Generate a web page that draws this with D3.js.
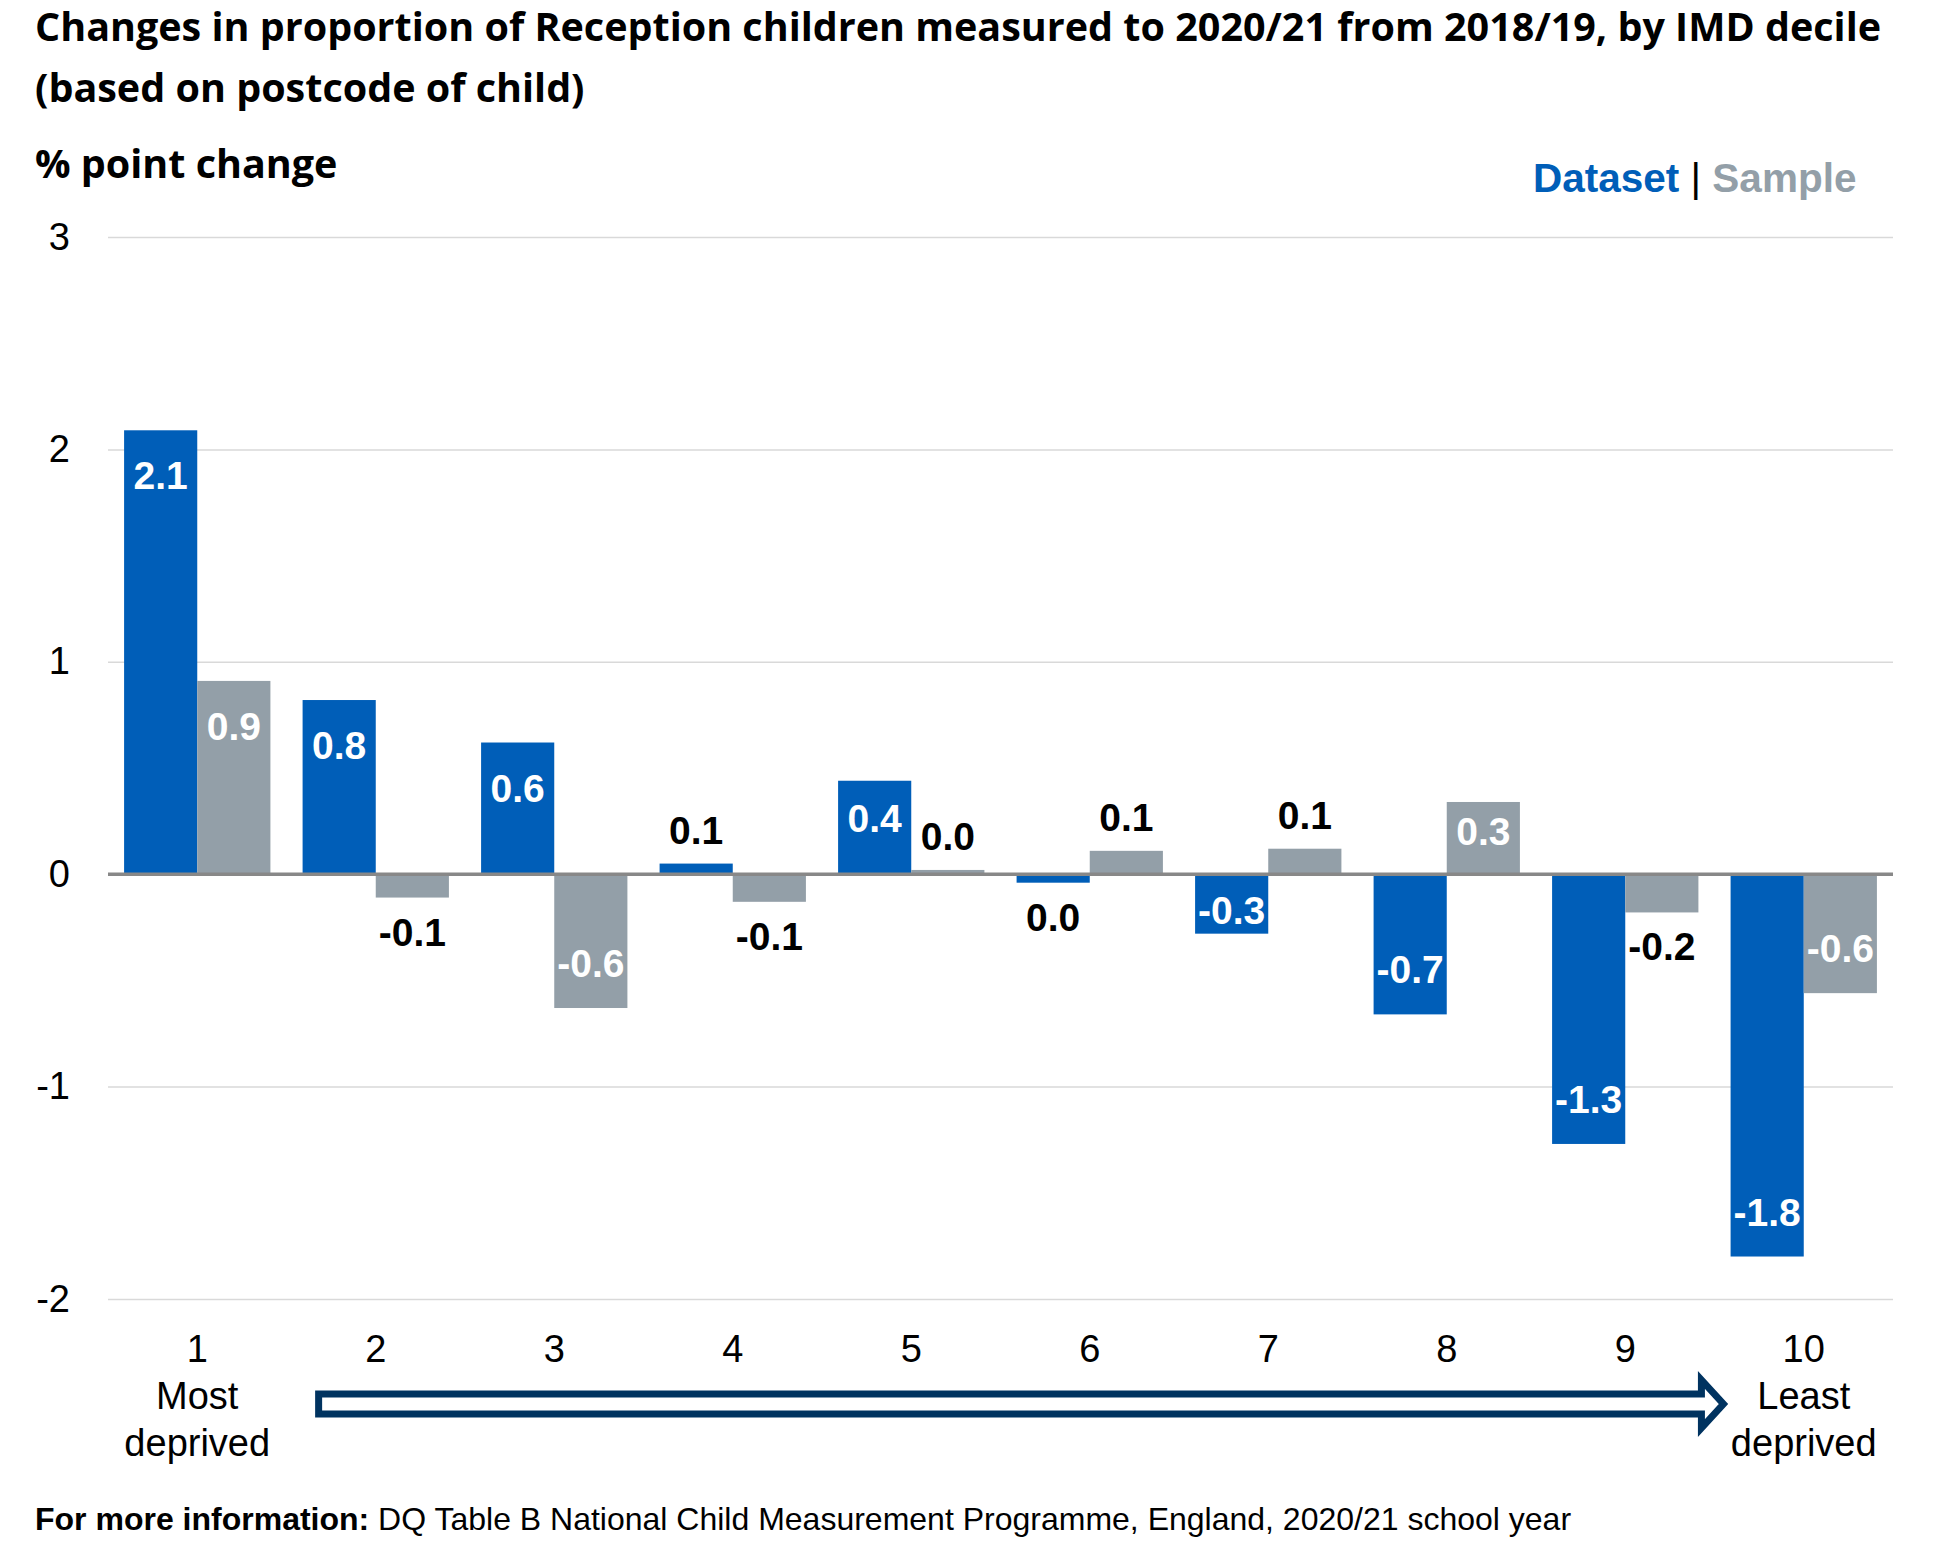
<!DOCTYPE html>
<html>
<head>
<meta charset="utf-8">
<script src="https://cdn.jsdelivr.net/npm/d3@7"></script>
<style>
  body { margin: 0; background: #fff; }
  text { font-family: "Liberation Sans", Arial, sans-serif; }
</style>
</head>
<body>
<div id="chart"></div>
<script>
// deciles and the two series (% point change, 2018/19 -> 2020/21)
const deciles = ["1", "2", "3", "4", "5", "6", "7", "8", "9", "10"];
const seriesNames = ["Dataset", "Sample"];
const datasetValues = [2.09, 0.82, 0.62, 0.05, 0.44, -0.04, -0.28, -0.66, -1.27, -1.80];
const sampleValues = [0.91, -0.11, -0.63, -0.13, 0.02, 0.11, 0.12, 0.34, -0.18, -0.56];
const yTicks = [-2, -1, 0, 1, 2, 3];

const W = 1949, H = 1560;
const plotL = 108, plotR = 1893, plotT = 237, plotB = 1299;
const blue = "#005EB8", grey = "#939FA8";

const svg = d3.select("#chart").append("svg")
  .attr("width", W)
  .attr("height", H);

const x0 = d3.scaleBand().domain(deciles).range([plotL, plotR]);
const x1 = d3.scaleBand().domain(seriesNames).range([0, x0.bandwidth()])
  .paddingInner(0).paddingOuter(0.22);
const y = d3.scaleLinear().domain([-2, 3]).range([plotB, plotT]);

// title
function heading(txt, yy) {
  svg.append("text").attr("x", 35).attr("y", yy)
    .style("font-family", "'Open Sans', sans-serif").style("font-weight", "bold")
    .style("font-size", "39.5px")
    .text(txt);
}
heading("Changes in proportion of Reception children measured to 2020/21 from 2018/19, by IMD decile", 41);
heading("(based on postcode of child)", 102);
heading("% point change", 178);

// legend
const leg = svg.append("text").attr("x", 1533).attr("y", 192)
  .style("font-size", "40.5px").style("font-weight", "bold");
leg.append("tspan").attr("fill", blue).text("Dataset");
leg.append("tspan").attr("fill", "#000").style("font-weight", "normal").text(" | ");
leg.append("tspan").attr("fill", grey).text("Sample");

// gridlines + y labels
const yAxis = svg.append("g")
  .attr("transform", `translate(${plotL},0)`)
  .call(d3.axisLeft(y).tickValues(yTicks).tickFormat(d => String(d))
    .tickSize(-(plotR - plotL)).tickPadding(38));
yAxis.select(".domain").remove();
yAxis.selectAll("line").attr("stroke", "#d9d9d9").attr("stroke-width", 1.5);
yAxis.selectAll("text").style("font-size", "38px").attr("fill", "#000");

// bars
const rows = deciles.map((d, i) => ({
  decile: d,
  bars: [
    { key: "Dataset", value: datasetValues[i], color: blue },
    { key: "Sample", value: sampleValues[i], color: grey }
  ]
}));

const groups = svg.append("g").selectAll("g")
  .data(rows)
  .enter().append("g")
  .attr("transform", d => `translate(${x0(d.decile)},0)`);

groups.selectAll("rect")
  .data(d => d.bars)
  .enter().append("rect")
  .attr("x", d => x1(d.key))
  .attr("width", x1.bandwidth())
  .attr("y", d => y(Math.max(0, d.value)))
  .attr("height", d => Math.abs(y(d.value) - y(0)))
  .attr("fill", d => d.color);

// zero line
svg.append("line")
  .attr("x1", plotL).attr("x2", plotR)
  .attr("y1", y(0)).attr("y2", y(0))
  .attr("stroke", "#888").attr("stroke-width", 3.5);

// data labels: inside end for the bigger bars, outside end for the small ones
function fmt(v) {
  const s = v.toFixed(1);
  return s === "-0.0" ? "0.0" : s;
}
groups.selectAll("text.val")
  .data(d => d.bars)
  .enter().append("text")
  .attr("class", "val")
  .attr("x", d => x1(d.key) + x1.bandwidth() / 2)
  .attr("y", d => {
    const len = Math.abs(y(d.value) - y(0));
    const inside = Math.abs(d.value) >= 0.25;
    const off = inside ? -Math.min(45, len * 0.4) : 34;
    return d.value >= 0 ? y(d.value) - off : y(d.value) + off;
  })
  .attr("dy", "0.36em")
  .attr("text-anchor", "middle")
  .style("font-size", "39px").style("font-weight", "bold")
  .attr("fill", d => Math.abs(d.value) >= 0.25 ? "#fff" : "#000")
  .text(d => fmt(d.value));

// x axis labels
const xAxis = svg.append("g")
  .attr("transform", `translate(0,${plotB})`)
  .call(d3.axisBottom(x0).tickSize(0).tickPadding(36));
xAxis.select(".domain").remove();
xAxis.selectAll("text").style("font-size", "38px").attr("fill", "#000");

const ends = [
  { decile: "1", lines: ["Most", "deprived"] },
  { decile: "10", lines: ["Least", "deprived"] }
];
ends.forEach(e => {
  const t = svg.append("text")
    .attr("text-anchor", "middle")
    .style("font-size", "38px");
  e.lines.forEach((l, i) => {
    t.append("tspan")
      .attr("x", x0(e.decile) + x0.bandwidth() / 2)
      .attr("y", 1409 + i * 47)
      .text(l);
  });
});

// arrow from most to least deprived
const bw = x0.bandwidth();
const ax0 = x0("2") + bw * 0.18, ax1 = x0("10") + bw * 0.05;
const ay = 1404, half = 10, headH = 24, headW = 22;
svg.append("path")
  .attr("d", `M${ax0},${ay - half} L${ax1 - headW},${ay - half} L${ax1 - headW},${ay - headH}` +
             ` L${ax1},${ay} L${ax1 - headW},${ay + headH} L${ax1 - headW},${ay + half} L${ax0},${ay + half} Z`)
  .attr("fill", "#fff")
  .attr("stroke", "#003360")
  .attr("stroke-width", 7)
  .attr("stroke-linejoin", "miter");

// footer
const foot = svg.append("text").attr("x", 35).attr("y", 1530).style("font-size", "32px");
foot.append("tspan").style("font-weight", "bold").text("For more information: ");
foot.append("tspan").text("DQ Table B National Child Measurement Programme, England, 2020/21 school year");
</script>
</body>
</html>
